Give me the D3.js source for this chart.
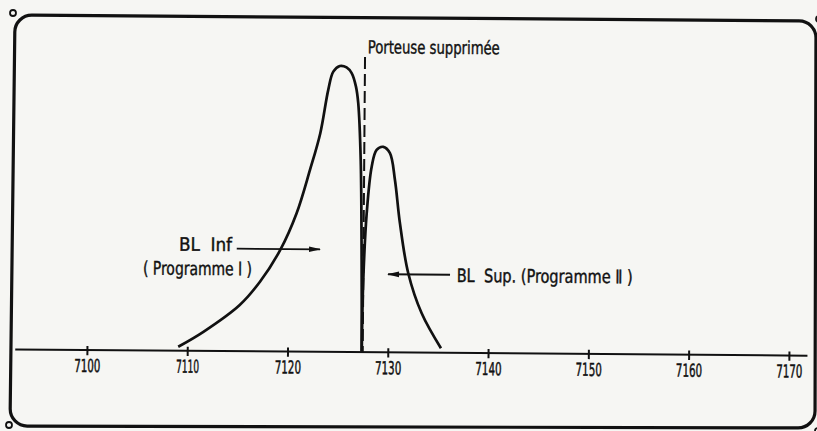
<!DOCTYPE html>
<html>
<head>
<meta charset="utf-8">
<script src="https://cdn.jsdelivr.net/npm/d3@7"></script>
<style>
  html, body { margin: 0; padding: 0; background: #f5f5f2; }
  svg { display: block; }
  text { white-space: pre; }
</style>
</head>
<body>
<svg id="chart" width="817" height="431"></svg>
<script>
// Frequency axis, kHz
const tickValues = [7100, 7110, 7120, 7130, 7140, 7150, 7160, 7170];
const tickLabels = ["7100", "7110", "7120", "7130", "7140", "7150", "7160", "7170"];
const axisExtent = [7092.8, 7171.8];

// Suppressed carrier
const carrierFreq = 7127.5;
const carrierLabel = "Porteuse supprimée";

// Lower sideband (Programme I): frequency (kHz) and relative level
const lsbFreq  = [7109.1, 7111.6, 7115.2, 7117.2, 7119.2, 7120.8, 7122.1, 7123.1, 7123.86, 7124.35, 7125.0, 7125.67, 7126.18, 7126.62, 7126.86, 7127.15, 7127.32, 7127.4];
const lsbLevel = [1.2,    6.5,    16.0,   24.2,   35.4,   48.3,   63.5,   76.4,   91.6,    98.0,    100,    99.5,    97.5,    92.8,    87.0,    67.1,    32.1,    0];

// Upper sideband (Programme II)
const usbFreq  = [7127.4, 7127.5, 7127.79, 7128.25, 7128.73, 7129.39, 7130.06, 7130.58, 7131.11, 7131.98, 7133.35, 7135.3];
const usbLevel = [0,      25.1,   48.5,    64.8,    70.7,    71.8,    69.6,    60.2,    45.1,    27.6,    13.6,    1.4];

const lsbLabel1 = "BL  Inf";
const lsbLabel2 = "( Programme I )";
const usbLabel  = "BL  Sup. (Programme Ⅱ )";

const W = 817, H = 431;
const ink = "#111111";
const paper = "#f6f6f3";
const fontFamily = "'Liberation Sans Narrow', 'DejaVu Sans Condensed', 'Arial Narrow', sans-serif";

const svg = d3.select("#chart");
svg.append("rect").attr("width", W).attr("height", H).attr("fill", paper);

// Rounded outer frame with corner holes
const frameCorners = [[15, 15], [816, 21], [815, 428], [10, 426]];
function roundedPath(pts, r) {
  const p = d3.path();
  const n = pts.length;
  const mid = (a, b) => [(a[0] + b[0]) / 2, (a[1] + b[1]) / 2];
  const s = mid(pts[n - 1], pts[0]);
  p.moveTo(s[0], s[1]);
  for (let i = 0; i < n; i++) {
    const c = pts[i], nx = pts[(i + 1) % n];
    const m = mid(c, nx);
    p.arcTo(c[0], c[1], m[0], m[1], r);
  }
  p.closePath();
  return p.toString();
}
svg.append("path")
  .attr("d", roundedPath(frameCorners, 17))
  .attr("fill", "none")
  .attr("stroke", ink)
  .attr("stroke-width", 3.2);

const holes = [[13, 13], [819, 19], [9, 425], [818, 431]];
svg.selectAll("circle.hole").data(holes).join("circle")
  .attr("class", "hole")
  .attr("cx", d => d[0]).attr("cy", d => d[1]).attr("r", 3)
  .attr("fill", paper).attr("stroke", ink).attr("stroke-width", 1.8);

// Chart body (slightly tilted drawing)
const g = svg.append("g").attr("transform", "rotate(0.45,408,215)");

const x = d3.scaleLinear().domain([7100, 7170]).range([88, 790]);
const y = d3.scaleLinear().domain([0, 100]).range([352, 66.5]);

const axisScale = x.copy().domain(axisExtent).range(axisExtent.map(x));
const axis = d3.axisBottom(axisScale)
  .tickValues(tickValues)
  .tickFormat(d => tickLabels[tickValues.indexOf(d)])
  .tickSizeOuter(0);

const ax = g.append("g")
  .attr("transform", `translate(0,${y(0)})`)
  .call(axis)
  .attr("font-family", fontFamily)
  .attr("font-size", 18);
ax.select(".domain").attr("stroke", ink).attr("stroke-width", 2);
ax.selectAll(".tick line")
  .attr("y1", -3.6).attr("y2", 5.7)
  .attr("stroke", ink).attr("stroke-width", 2);
ax.selectAll(".tick text")
  .attr("y", 22.5).attr("dy", null)
  .attr("fill", ink)
  .attr("stroke", ink).attr("stroke-width", 0.5)
  .attr("textLength", d => {
    const s = String(d);
    const ones = s.split("").filter(c => c === "1").length;
    return (s.length - ones) * 7.3 + ones * 4.3;
  })
  .attr("lengthAdjust", "spacingAndGlyphs");

// Carrier marker
g.append("line")
  .attr("x1", x(carrierFreq)).attr("x2", x(carrierFreq))
  .attr("y1", y(103.2)).attr("y2", y(0))
  .attr("stroke", ink).attr("stroke-width", 2)
  .attr("stroke-dasharray", "12 5");

// Sideband envelopes
const line = d3.line()
  .x(d => x(d[0]))
  .y(d => y(d[1]))
  .curve(d3.curveCatmullRom.alpha(0.5));

g.append("path")
  .datum(d3.zip(lsbFreq, lsbLevel))
  .attr("d", line)
  .attr("fill", "none").attr("stroke", ink)
  .attr("stroke-width", 2.7).attr("stroke-linejoin", "round");

g.append("path")
  .datum(d3.zip(usbFreq, usbLevel))
  .attr("d", line)
  .attr("fill", "none").attr("stroke", ink)
  .attr("stroke-width", 2.7).attr("stroke-linejoin", "round");

// Annotations
function text(str, px, py, len, size) {
  return g.append("text")
    .attr("x", px).attr("y", py)
    .attr("font-family", fontFamily)
    .attr("font-size", size)
    .attr("fill", ink)
    .attr("stroke", ink).attr("stroke-width", 0.4)
    .attr("textLength", len)
    .attr("lengthAdjust", "spacingAndGlyphs")
    .text(str);
}
function arrow(x0, x1, py) {
  // shaft from x0 to tip at x1
  g.append("line")
    .attr("x1", x0).attr("x2", x1).attr("y1", py).attr("y2", py)
    .attr("stroke", ink).attr("stroke-width", 1.8);
  const dir = Math.sign(x1 - x0);
  g.append("path")
    .attr("d", `M${x1 + dir},${py} L${x1 - dir * 11},${py - 2.8} L${x1 - dir * 11},${py + 2.8} Z`)
    .attr("fill", ink);
}

text(carrierLabel, x(carrierFreq) + 2.7, 53.6, 132, 18);

text(lsbLabel1, 179.3, 252.5, 53, 18.5);
text(lsbLabel2, 143.5, 276.6, 109, 18.5);
arrow(237, 320.3, 250);

text(usbLabel, 457.2, 281.6, 176, 18.5);
arrow(450.5, 388.5, 274.4);
</script>
</body>
</html>
